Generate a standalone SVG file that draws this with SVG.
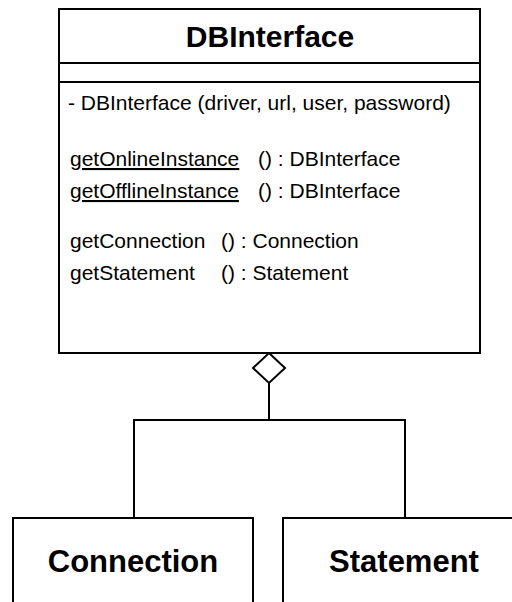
<svg xmlns="http://www.w3.org/2000/svg" width="512" height="602" viewBox="0 0 512 602">
<style>
.box{fill:#fff;stroke:#000;stroke-width:2}
.div{stroke:#000;stroke-width:2}
.t{font-family:"Liberation Sans",Arial,sans-serif;font-size:21px;fill:#000}
.b{font-family:"Liberation Sans",Arial,sans-serif;font-size:30px;font-weight:bold;fill:#000}
.b2{font-family:"Liberation Sans",Arial,sans-serif;font-size:31px;font-weight:bold;fill:#000}
.u{text-decoration:underline}
.c{fill:none;stroke:#000;stroke-width:2}
</style>
<rect width="512" height="602" fill="#fff"/>
<g id="connectors">
<polygon class="c" points="269,353 285,368 269,383 253,368" stroke-width="3"/>
<polyline class="c" points="269,383 269,420"/>
<polyline class="c" points="134,518 134,420 405,420 405,518"/>
</g>
<g id="DBInterface">
<rect class="box" x="59" y="9" width="421" height="344"/>
<line class="div" x1="59" y1="63" x2="480" y2="63"/>
<line class="div" x1="59" y1="82" x2="480" y2="82"/>
<text class="b" x="270" y="47" text-anchor="middle">DBInterface</text>
<text class="t" x="68" y="110">- DBInterface (driver, url, user, password)</text>
<text class="t u" x="70" y="166">getOnlineInstance</text>
<text class="t" x="258" y="166">() : DBInterface</text>
<text class="t u" x="70" y="198">getOfflineInstance</text>
<text class="t" x="258" y="198">() : DBInterface</text>
<text class="t" x="70" y="248">getConnection</text>
<text class="t" x="221" y="248">() : Connection</text>
<text class="t" x="70" y="280">getStatement</text>
<text class="t" x="221" y="280">() : Statement</text>
</g>
<g id="Connection">
<rect class="box" x="13" y="518" width="240" height="100"/>
<text class="b2" x="133" y="572" text-anchor="middle">Connection</text>
</g>
<g id="Statement">
<rect class="box" x="283" y="518" width="240" height="100"/>
<text class="b2" x="404" y="572" text-anchor="middle">Statement</text>
</g>
</svg>
